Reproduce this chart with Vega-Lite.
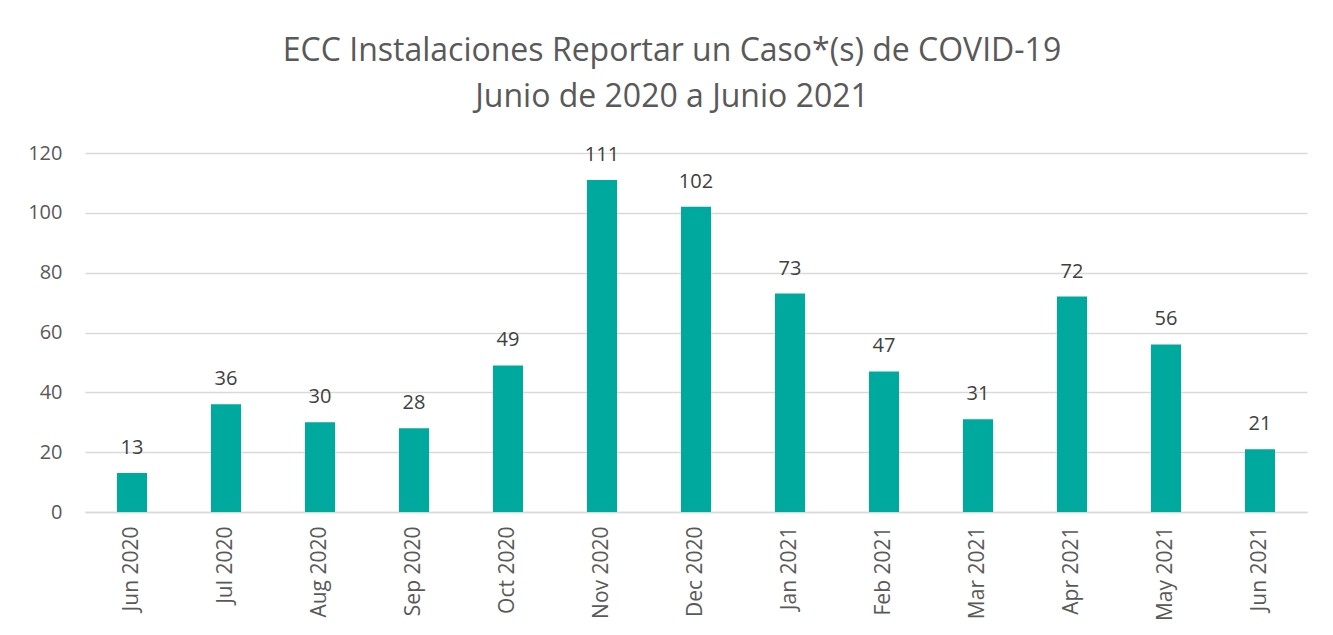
{
  "$schema": "https://vega.github.io/schema/vega-lite/v6.json",
  "autosize": "none",
  "width": 1222,
  "height": 359,
  "padding": {"left": 85, "top": 153, "right": 26, "bottom": 123},
  "background": "white",
  "title": {
    "text": ["ECC Instalaciones Reportar un Caso*(s) de COVID-19", "Junio de 2020 a Junio 2021"],
    "anchor": "middle",
    "font": "Open Sans",
    "fontSize": 32,
    "fontWeight": "normal",
    "color": "#595959",
    "lineHeight": 46,
    "offset": 29,
    "dx": -24
  },
  "data": {
    "values": [
      {"month": "Jun 2020", "cases": 13},
      {"month": "Jul 2020", "cases": 36},
      {"month": "Aug 2020", "cases": 30},
      {"month": "Sep 2020", "cases": 28},
      {"month": "Oct 2020", "cases": 49},
      {"month": "Nov 2020", "cases": 111},
      {"month": "Dec 2020", "cases": 102},
      {"month": "Jan 2021", "cases": 73},
      {"month": "Feb 2021", "cases": 47},
      {"month": "Mar 2021", "cases": 31},
      {"month": "Apr 2021", "cases": 72},
      {"month": "May 2021", "cases": 56},
      {"month": "Jun 2021", "cases": 21}
    ]
  },
  "encoding": {
    "x": {
      "field": "month",
      "type": "nominal",
      "sort": null,
      "scale": {"paddingInner": 0.68, "paddingOuter": 0.34},
      "axis": {
        "title": null,
        "labelAngle": -90,
        "labelFont": "Open Sans",
        "labelFontSize": 21,
        "labelColor": "#595959",
        "labelPadding": 14,
        "ticks": false,
        "domain": true,
        "domainColor": "#d9d9d9",
        "domainWidth": 1.5
      }
    },
    "y": {
      "field": "cases",
      "type": "quantitative",
      "scale": {"domain": [0, 120], "nice": false},
      "axis": {
        "title": null,
        "values": [0, 20, 40, 60, 80, 100, 120],
        "labelFont": "Open Sans",
        "labelFontSize": 20,
        "labelColor": "#595959",
        "labelPadding": 23,
        "ticks": false,
        "domain": false,
        "grid": true,
        "gridColor": "#d9d9d9",
        "gridWidth": 1.5
      }
    }
  },
  "layer": [
    {"mark": {"type": "bar", "color": "#00A99D"}},
    {
      "mark": {"type": "text", "font": "Open Sans", "fontSize": 20, "color": "#404040", "baseline": "alphabetic", "dy": -19},
      "encoding": {"text": {"field": "cases", "type": "quantitative"}}
    }
  ],
  "config": {"view": {"stroke": null}}
}
